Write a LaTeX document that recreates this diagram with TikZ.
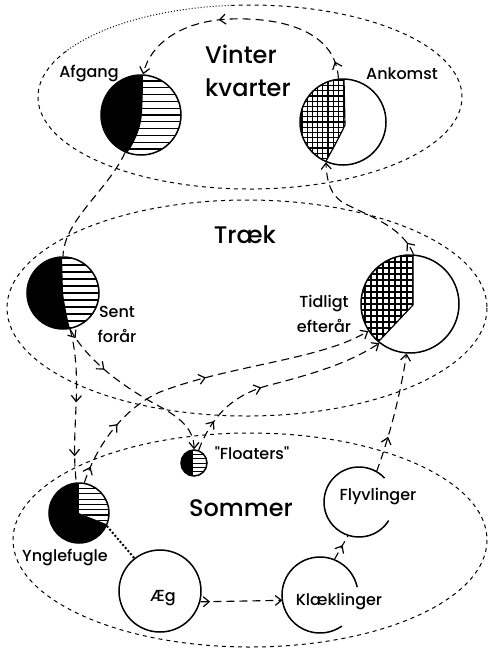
\documentclass[tikz,border=0pt]{standalone}
\usepackage{fontspec}
\setmainfont{Poppins Medium}[Ligatures=TeXOff]
\usetikzlibrary{arrows.meta,decorations.markings}
\begin{document}
\begin{tikzpicture}[x=1pt,y=-1pt,
  barb/.tip={Straight Barb[length=6pt,width=10pt,line width=1.2pt]},
  conn/.style={line width=1.1pt, dash pattern=on 8pt off 5pt},
  carr/.style={conn,-{barb}},
  marr/.style={postaction={decorate,decoration={markings,mark=at position #1 with {\pgfsetdash{}{0pt}\arrow{barb}}}}},
  ell/.style={line width=1pt, dash pattern=on 4pt off 4pt},
  bird/.style={circle, draw=black, line width=1.5pt, inner sep=0pt, minimum size=#1},
  ghost/.style={circle, inner sep=0pt, minimum size=#1},
  circ/.style={line width=1.5pt},
  hatch/.style={line width=1.2pt},
  lbl/.style={font=\fontsize{16}{25}\selectfont, inner sep=0pt, align=center},
  big/.style={font=\fontsize{24}{33}\selectfont, inner sep=0pt},
  ppic/.style={path picture={\begin{scope}[shift={(path picture bounding box.center)}]#1\end{scope}}}
]
\useasboundingbox (0,0) rectangle (491,649);

% season ellipses
\draw[line width=1pt, dotted] (250,97) ++(-95:212 and 92) arc[start angle=-95, end angle=-150, x radius=212, y radius=92];
\draw[ell] (250,97) ++(-150:212 and 92) arc[start angle=-150, end angle=-455, x radius=212, y radius=92];
\draw[ell] (247,308) ellipse[x radius=240, y radius=108];
\draw[ell] (250,540) ellipse[x radius=237, y radius=107];

% circles
\node[bird=80, ppic={
   \foreach \i in {-6,...,6} \draw[hatch] (-45,\i*6.8) -- (45,\i*6.8);
   \fill (-50,-50) -- (2,-50) -- (2,-40) .. controls (2,-15) and (1,-5) .. (1,-2) .. controls (0,15) and (-8,30) .. (-14,38) -- (-14,50) -- (-50,50) -- cycle;
 }] (afg) at (141,115) {};
\node[bird=86, ppic={
   \begin{scope}
   \clip (-50,-50) -- (1,-50) -- (1,-43) -- (2,3) .. controls (-5,18) and (-12,30) .. (-18,41) -- (-18,50) -- (-50,50) -- cycle;
   \foreach \i in {-9,...,9} {\draw[hatch] (\i*5.2+0.5,-50) -- (\i*5.2+0.5,50); \draw[hatch] (-50,\i*5.2) -- (50,\i*5.2);}
   \end{scope}
   \draw[hatch] (1,-43) -- (2,3) .. controls (-5,18) and (-12,30) .. (-18,41);
 }] (ank) at (343,122) {};
\node[bird=72, ppic={
   \foreach \i in {-5,...,5} \draw[hatch] (-40,\i*7) -- (40,\i*7);
   \fill (-50,-50) -- (-1,-50) -- (-1,-36) -- (0,0) .. controls (2,15) and (5,28) .. (7,36) -- (7,50) -- (-50,50) -- cycle;
 }] (sent) at (63,293) {};
\node[bird=98, ppic={
   \begin{scope}
   \clip (-60,-60) -- (3,-60) -- (3,-49) -- (3,1) -- (-30,36) -- (-30,60) -- (-60,60) -- cycle;
   \foreach \i in {-9,...,9} {\draw[hatch] (\i*6+3,-60) -- (\i*6+3,60); \draw[hatch] (-60,\i*6) -- (60,\i*6);}
   \end{scope}
   \draw[hatch] (3,-49) -- (3,1) -- (-30,36);
 }] (tid) at (410,304) {};
\node[bird=26, ppic={
   \foreach \i in {-3,...,3} \draw[line width=1pt] (-15,\i*4.2) -- (15,\i*4.2);
   \fill (-20,-20) rectangle (-1,20);
 }] (flo) at (194,463) {};
\node[bird=60, ppic={
   \fill (-35,-35) rectangle (35,35);
   \fill[white] (0,-40) -- (0,0) -- (40,16) -- (40,-40) -- cycle;
   \begin{scope}
   \clip (0,-40) -- (0,0) -- (40,16) -- (40,-40) -- cycle;
   \foreach \i in {-6,...,2} \draw[hatch] (-2,\i*5.3+2) -- (40,\i*5.3+2);
   \end{scope}
 }] (yng) at (79,513) {};
\node[bird=82] (aeg) at (160,591) {};
\node[ghost=76] (klae) at (320,595) {};
\node[ghost=70] (flyv) at (359,502) {};
\draw[circ] (klae.center) ++(-12:38) arc[start angle=-12, end angle=-305, radius=38];
\draw[circ] (flyv.center) ++(-43:35) arc[start angle=-43, end angle=-328, radius=35];

% labels
\node[big, anchor=west, align=left] (vinter) at (205,71) {Vinter\\kvarter};
\node[big] (traek) at (245,235) {Træk};
\node[big] (sommer) at (241,508) {Sommer};
\node[lbl] (lafg) at (89,73) {Afgang};
\node[lbl] (lank) at (402,74) {Ankomst};
\node[lbl] (lsent) at (117,324) {Sent\\forår};
\node[lbl] (ltid) at (324,314) {Tidligt\\efterår};
\node[lbl] (lflo) at (252,453) {"Floaters"};
\node[lbl] (lyng) at (65,557) {Ynglefugle};
\node[lbl] (laeg) at (163,598) {Æg};
\node[lbl] (lklae) at (339,602) {Klæklinger};
\node[lbl] (lflyv) at (378,497) {Flyvlinger};

% connectors
\draw[carr, marr=0.07, marr=0.6] (ank.96) .. controls (336,35) and (290,17) .. (230,19) .. controls (180,21) and (150,45) .. (afg.87);
\draw[conn] (afg.247) .. controls (108,190) and (64,220) .. (sent.north);
\draw[conn, marr=0.48, marr=0.83] (sent.281) .. controls (84,380) and (70,430) .. (yng.95);
\draw[carr, marr=0.06, marr=0.3] (sent.281) .. controls (90,365) and (130,390) .. (155,404) .. controls (178,416) and (194,428) .. (flo.north);
\draw[carr, marr=0.15, marr=0.42] (flo.70) .. controls (210,420) and (230,395) .. (270,385) .. controls (320,372) and (350,362) .. (tid.232);
\draw[carr, marr=0.05, marr=0.2, marr=0.5] (yng.80) .. controls (95,450) and (120,410) .. (160,392) .. controls (230,365) and (320,360) .. (tid.213);
\draw[carr, marr=0.1] (tid.86) .. controls (402,225) and (365,215) .. (342,202) .. controls (332,195) and (327,185) .. (ank.247);
\draw[carr, marr=0.3] (flyv.60) .. controls (392,430) and (402,385) .. (tid.266);
\draw[conn, marr=0.6] (klae.68) -- (flyv.252);
\draw[carr, marr=0.12] (aeg.-15) -- (klae.188);
\draw[line width=2pt, dotted] (yng.-25) -- (aeg.128);
\end{tikzpicture}
\end{document}
